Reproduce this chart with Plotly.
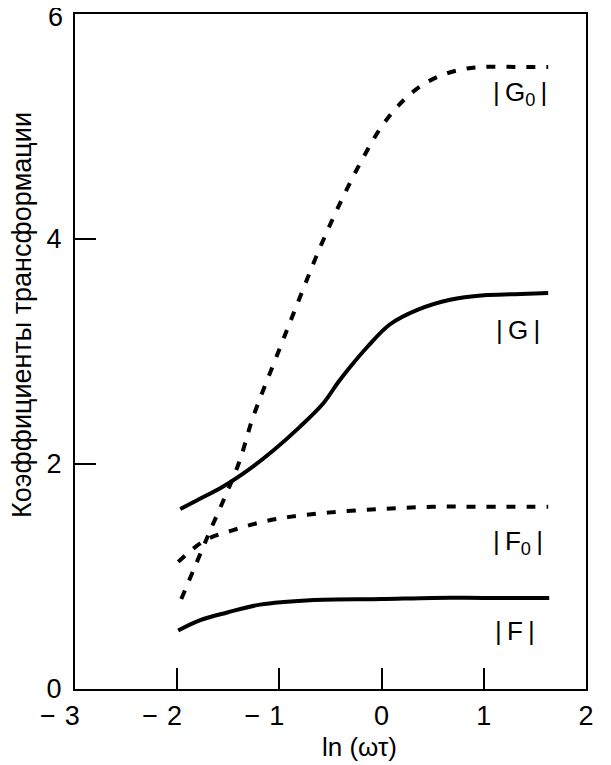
import plotly.graph_objects as go

# ---- data ----
g0_x = [-1.96, -1.7, -1.4, -1.26, -1.0, -0.8, -0.6, -0.4, -0.2, 0.0, 0.2, 0.4, 0.6, 0.8, 1.0, 1.3, 1.63]
g0_y = [0.80, 1.36, 2.00, 2.41, 3.02, 3.48, 3.93, 4.33, 4.69, 5.00, 5.22, 5.37, 5.46, 5.51, 5.53, 5.53, 5.53]

g_x = [-1.97, -1.8, -1.55, -1.3, -1.06, -0.8, -0.57, -0.43, -0.31, -0.14, 0.08, 0.35, 0.67, 1.0, 1.3, 1.63]
g_y = [1.60, 1.68, 1.80, 1.95, 2.12, 2.33, 2.54, 2.72, 2.86, 3.04, 3.24, 3.37, 3.46, 3.50, 3.51, 3.52]

f0_x = [-1.99, -1.73, -1.46, -1.19, -0.9, -0.5, 0.0, 0.5, 1.0, 1.63]
f0_y = [1.13, 1.32, 1.41, 1.48, 1.53, 1.57, 1.60, 1.62, 1.62, 1.62]

f_x = [-1.99, -1.78, -1.51, -1.19, -0.7, 0.0, 0.5, 1.0, 1.64]
f_y = [0.52, 0.61, 0.68, 0.75, 0.79, 0.80, 0.81, 0.81, 0.81]

labels = ["|\u2009G<sub>0</sub>\u2009|", "|\u2009G\u2009|", "|\u2009F<sub>0</sub>\u2009|", "|\u2009F\u2009|"]
label_x = [1.35, 1.33, 1.33, 1.31]
label_y = [5.29, 3.19, 1.30, 0.52]

HID = "<span style='color:white'>{}</span>"
x_ticks = [-3, -2, -1, 0, 1, 2]
x_ticktext = ["\u2212" + HID.format("-") + "3" + HID.format("00"),
              "\u2212" + HID.format("-") + "2" + HID.format("00"),
              "\u2212" + HID.format("-") + "1" + HID.format("00"),
              "0", "1", "2"]
y_ticks = [0, 2, 4, 6]
y_ticktext = ["0", "2", "4", ""]   # top label "6" drawn separately so it is not clipped
y_top_label = "6"

x_title = "ln (\u03c9\u03c4)"
y_title = "Коэффициенты трансформации"

FONT = "Liberation Sans, Arial, sans-serif"

fig = go.Figure()
dash = "9px,11px"
fig.add_trace(go.Scatter(x=g0_x, y=g0_y, mode="lines", line=dict(color="black", width=4, dash=dash, shape="spline"), showlegend=False))
fig.add_trace(go.Scatter(x=g_x, y=g_y, mode="lines", line=dict(color="black", width=4, shape="spline"), showlegend=False))
fig.add_trace(go.Scatter(x=f0_x, y=f0_y, mode="lines", line=dict(color="black", width=4, dash=dash, shape="spline"), showlegend=False))
fig.add_trace(go.Scatter(x=f_x, y=f_y, mode="lines", line=dict(color="black", width=4, shape="spline"), showlegend=False))

for t, lx, ly in zip(labels, label_x, label_y):
    fig.add_annotation(x=lx, y=ly, text=t, showarrow=False, xanchor="center", yanchor="middle",
                       font=dict(family=FONT, size=26, color="black"))

fig.add_annotation(xref="paper", yref="y", x=-0.0196, y=y_ticks[-1], yshift=-3, text=y_top_label, showarrow=False,
                   xanchor="right", yanchor="middle", font=dict(family=FONT, size=27, color="black"))

fig.add_annotation(xref="paper", yref="paper", x=0.556, y=-0.086, text=x_title, showarrow=False,
                   xanchor="center", yanchor="middle", font=dict(family=FONT, size=26, color="black"))
fig.add_annotation(xref="paper", yref="paper", x=-0.1037, y=0.554, text=y_title, showarrow=False, textangle=-90,
                   xanchor="center", yanchor="middle", font=dict(family=FONT, size=27, color="black"))

axis_common = dict(showgrid=False, zeroline=False, showline=True, mirror=True, linecolor="black", linewidth=2,
                   ticks="inside", ticklen=21, tickwidth=1.5, tickcolor="black", ticklabeloverflow="allow",
                   automargin=False, tickfont=dict(family=FONT, size=27, color="black"))

fig.update_xaxes(range=[-3, 2], tickvals=x_ticks, ticktext=x_ticktext, ticklabelstandoff=2, **axis_common)
fig.update_yaxes(range=[0, 6], tickvals=y_ticks, ticktext=y_ticktext, ticklabelstandoff=6, **axis_common)

# the page body has an 8px default margin: size the figure so the plot area lands where the reference has it
fig.update_layout(width=603, height=757, margin=dict(l=67, r=25, t=6, b=76, autoexpand=False),
                  plot_bgcolor="white", paper_bgcolor="white", font=dict(family=FONT))

fig.write_html("out.html")
